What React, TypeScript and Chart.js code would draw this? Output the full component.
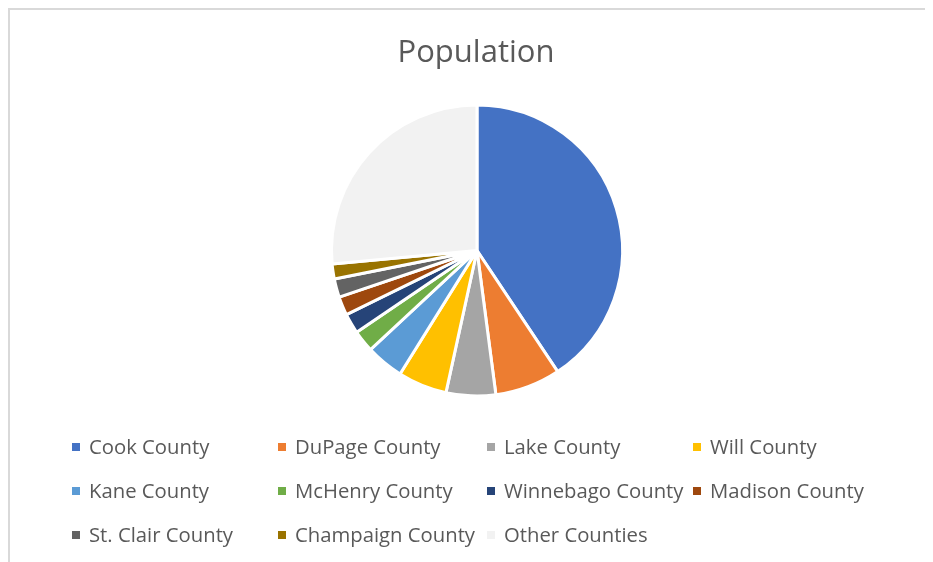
import React, { useEffect, useRef } from "react";
import { Chart, registerables } from "chart.js";

Chart.register(...registerables);

const countyLabels: string[] = [
  "Cook County",
  "DuPage County",
  "Lake County",
  "Will County",
  "Kane County",
  "McHenry County",
  "Winnebago County",
  "Madison County",
  "St. Clair County",
  "Champaign County",
  "Other Counties",
];

const populationValues: number[] = [
  5150233, 922921, 696535, 690743, 532403, 307774, 282572, 262966, 259686,
  209689, 3356299,
];

const sliceColors: string[] = [
  "#4472C4",
  "#ED7D31",
  "#A5A5A5",
  "#FFC000",
  "#5B9BD5",
  "#70AD47",
  "#264478",
  "#9E480E",
  "#636363",
  "#997300",
  "#F2F2F2",
];

const chartTitle = "Population";

const TEXT_COLOR = "#595959";
const FONT = '"Open Sans", "DejaVu Sans", sans-serif';
const LEGEND_COL_X = [62, 268, 477, 683];

const overlayPlugin = {
  id: "excelOverlay",
  afterDraw(chart: any) {
    const ctx = chart.ctx as CanvasRenderingContext2D;
    ctx.save();
    // title
    ctx.fillStyle = TEXT_COLOR;
    ctx.font = `31px ${FONT}`;
    ctx.textAlign = "center";
    ctx.textBaseline = "alphabetic";
    ctx.fillText(chartTitle, 466, 52);

    // legend in 4 columns
    const labels: string[] = chart.data.labels;
    const colors: string[] = chart.data.datasets[0].backgroundColor;
    ctx.font = `20.3px ${FONT}`;
    ctx.textAlign = "left";
    ctx.textBaseline = "middle";
    labels.forEach((lab, i) => {
      const col = i % 4;
      const row = Math.floor(i / 4);
      const bx = LEGEND_COL_X[col];
      const by = 437 + row * 44;
      ctx.fillStyle = colors[i];
      ctx.fillRect(bx, by - 4, 8, 8);
      ctx.fillStyle = TEXT_COLOR;
      ctx.fillText(lab, bx + 17, by + 1);
    });
    ctx.restore();
  },
};

export default function App() {
  const ref = useRef<HTMLCanvasElement | null>(null);

  useEffect(() => {
    if (!ref.current) return;
    const chart = new Chart(ref.current, {
      type: "pie",
      data: {
        labels: countyLabels,
        datasets: [
          {
            data: populationValues,
            backgroundColor: sliceColors,
            borderColor: "#FFFFFF",
            borderWidth: 3,
          },
        ],
      },
      options: {
        animation: false,
        responsive: false,
        layout: { padding: { top: 93.5, bottom: 164.5, left: 11, right: 0 } },
        plugins: {
          legend: { display: false },
          title: { display: false },
          tooltip: { enabled: false },
        },
      },
      plugins: [overlayPlugin],
    });
    return () => chart.destroy();
  }, []);

  return (
    <div
      style={{
        width: 925,
        height: 554,
        boxSizing: "border-box",
        borderLeft: "2px solid #d9d9d9",
        borderTop: "2px solid #d9d9d9",
        background: "#fff",
        overflow: "hidden",
      }}
    >
      <canvas ref={ref} width={923} height={552} style={{ display: "block" }} />
    </div>
  );
}
